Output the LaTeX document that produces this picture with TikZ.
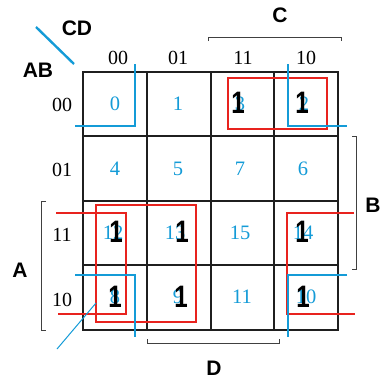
\documentclass[tikz,border=0pt]{standalone}
\usepackage{fontspec}
\setmainfont{Liberation Serif}
\setsansfont{Liberation Sans}
\definecolor{kblue}{RGB}{20,155,215}
\definecolor{kred}{RGB}{232,35,30}

\begin{document}
\begin{tikzpicture}[x=1pt,y=-1pt,
    cell num/.style={text=kblue,inner sep=0pt,font=\fontsize{20.5}{20.5}\selectfont},
    one/.style={inner sep=0pt,xscale=0.78,transform shape,font=\sffamily\bfseries\fontsize{31}{31}\selectfont},
    var label/.style={inner sep=0pt,font=\sffamily\bfseries\fontsize{21}{21}\selectfont},
    bit label/.style={inner sep=0pt,font=\fontsize{20}{20}\selectfont},
    bracket/.style={draw=black!75,line width=0.9pt},
    grid line/.style={draw=black!88,line width=2.6pt},
    corner/.style={draw=kblue,line width=2.6pt},
    group/.style={draw=kred,line width=1.5pt}]

    \useasboundingbox (0,0) rectangle (380,383);

    % map grid
    \draw[grid line] (83,72) rectangle (338,330);
    \draw[grid line] (147,72) -- (147,330) (211,72) -- (211,330) (274,72) -- (274,330);
    \draw[grid line] (83,136) -- (338,136) (83,201) -- (338,201) (83,265) -- (338,265);

    % cell numbers
    \node[cell num] at (115,104) (m0) {0};
    \node[cell num] at (178,104) (m1) {1};
    \node[cell num] at (240,104) (m3) {3};
    \node[cell num] at (304,104) (m2) {2};
    \node[cell num] at (115,169) (m4) {4};
    \node[cell num] at (178,169) (m5) {5};
    \node[cell num] at (240,169) (m7) {7};
    \node[cell num] at (303,169) (m6) {6};
    \node[cell num] at (113,233) (m12) {12};
    \node[cell num] at (175,233) (m13) {13};
    \node[cell num] at (240,233) (m15) {15};
    \node[cell num] at (303,233) (m14) {14};
    \node[cell num] at (115,297) (m8) {8};
    \node[cell num] at (178,297) (m9) {9};
    \node[cell num] at (242,297) (m11) {11};
    \node[cell num] at (306,297) (m10) {10};

    % groups
    \draw[group] (228,78) rectangle (327,129);
    \draw[group] (96,205) rectangle (196,322);
    \draw[group] (56,213) -- (126,213) -- (126,314) -- (58,314);
    \draw[group] (354,213) -- (287,213) -- (287,314) -- (355,314);

    % corner group
    \draw[corner] (135,64) -- (135,126) -- (75,126);
    \draw[corner] (288,64) -- (288,126) -- (347,126);
    \draw[corner] (75,275) -- (135,275) -- (135,337);
    \draw[corner] (347,275) -- (288,275) -- (288,337);
    \draw[draw=kblue,line width=1pt] (57,349) -- (96,303);

    % ones
    \node[one] at (238,103) (o3) {1};
    \node[one] at (302,103) (o2) {1};
    \node[one] at (116,232) (o12) {1};
    \node[one] at (182,232) (o13) {1};
    \node[one] at (302,232) (o14) {1};
    \node[one] at (115,297) (o8) {1};
    \node[one] at (181,297) (o9) {1};
    \node[one] at (303,297) (o10) {1};

    % headings
    \draw[draw=kblue,line width=2.4pt] (36,27) -- (74,64);
    \node[var label] at (77,28) (cd) {CD};
    \node[var label] at (38,70) (ab) {AB};
    \node[bit label] at (118,58) (col0) {00};
    \node[bit label] at (178,58) (col1) {01};
    \node[bit label] at (243,58) (col3) {11};
    \node[bit label] at (306,58) (col2) {10};
    \node[bit label] at (62,105) (row0) {00};
    \node[bit label] at (62,170) (row1) {01};
    \node[bit label] at (62,235) (row3) {11};
    \node[bit label] at (62,300) (row2) {10};

    % variable brackets
    \draw[bracket] (208,41) -- (208,37) -- (341,37) -- (341,41);
    \draw[bracket] (352,136) -- (356,136) -- (356,269) -- (352,269);
    \draw[bracket] (46,201) -- (41,201) -- (41,330) -- (46,330);
    \draw[bracket] (147,339) -- (147,343) -- (279,343) -- (279,339);
    \node[var label] at (280,15) (vc) {C};
    \node[var label] at (373,205) (vb) {B};
    \node[var label] at (20,270) (va) {A};
    \node[var label] at (214,368) (vd) {D};
\end{tikzpicture}
\end{document}
